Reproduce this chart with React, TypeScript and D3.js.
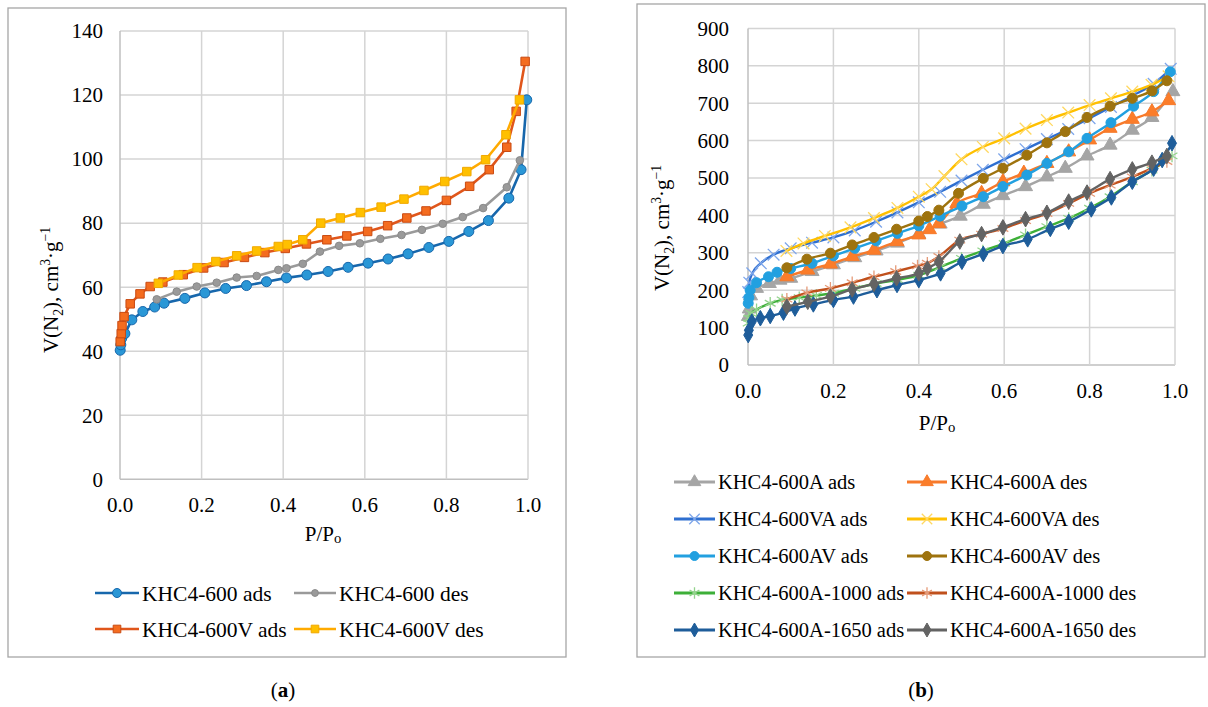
import React from "react";
import * as d3 from "d3";

// ---------- Panel (a) data: [P/P0, V] ----------
const a600Ads: [number, number][] = [
  [0.0005, 40.3], [0.002, 42], [0.004, 44], [0.012, 45.5], [0.029, 49.8], [0.056, 52.4], [0.085, 53.8],
  [0.108, 55], [0.159, 56.5], [0.208, 58.2], [0.259, 59.6], [0.31, 60.5], [0.359, 61.7], [0.408, 62.9],
  [0.458, 63.8], [0.51, 64.9], [0.559, 66.2], [0.608, 67.5], [0.657, 68.8], [0.706, 70.4], [0.757, 72.4],
  [0.806, 74.3], [0.855, 77.4], [0.903, 80.8], [0.953, 87.8], [0.983, 96.7], [0.997, 118.5],
];
const a600Des: [number, number][] = [
  [0.09, 56.2], [0.139, 58.6], [0.188, 60.2], [0.237, 61.4], [0.286, 63], [0.335, 63.5], [0.388, 65.4],
  [0.408, 65.9], [0.448, 67.3], [0.49, 71.1], [0.537, 72.9], [0.588, 73.7], [0.638, 75.1], [0.69, 76.3],
  [0.74, 77.9], [0.791, 79.8], [0.84, 81.9], [0.89, 84.7], [0.948, 91.2], [0.98, 99.6],
];
const a600VAds: [number, number][] = [
  [0.0005, 43], [0.003, 45.5], [0.005, 48], [0.01, 50.8], [0.025, 54.8], [0.049, 57.9], [0.074, 60.2],
  [0.105, 61.6], [0.155, 63.9], [0.205, 66], [0.255, 67.7], [0.305, 69.3], [0.355, 70.8], [0.405, 72.1],
  [0.457, 73.5], [0.507, 74.8], [0.556, 76], [0.607, 77.4], [0.656, 79.2], [0.703, 81.6], [0.75, 83.8],
  [0.8, 87.1], [0.857, 91.5], [0.905, 96.7], [0.948, 103.7], [0.971, 114.9], [0.993, 130.5],
];
const a600VDes: [number, number][] = [
  [0.094, 61.2], [0.143, 63.8], [0.189, 66.1], [0.235, 68], [0.286, 69.8], [0.335, 71.3], [0.388, 72.7],
  [0.41, 73.3], [0.448, 74.8], [0.492, 80], [0.54, 81.6], [0.589, 83.3], [0.64, 85], [0.696, 87.5],
  [0.745, 90.2], [0.796, 93], [0.85, 96.1], [0.896, 99.8], [0.946, 107.6], [0.979, 118.5],
];

// ---------- Panel (b) data: [P/P0, V] ----------
const bAAds: [number, number][] = [
  [0.001, 130], [0.003, 150], [0.006, 185], [0.02, 205], [0.05, 218], [0.075, 227], [0.1, 232], [0.15, 250],
  [0.2, 268], [0.25, 287], [0.3, 305], [0.35, 326], [0.4, 350], [0.45, 377], [0.497, 398], [0.551, 430],
  [0.597, 453], [0.65, 477], [0.7, 503], [0.743, 526], [0.794, 559], [0.848, 588], [0.9, 628], [0.946, 662],
  [0.995, 731],
];
const bADes: [number, number][] = [
  [0.091, 236], [0.14, 254], [0.193, 270], [0.244, 290], [0.295, 307], [0.349, 330], [0.4, 348], [0.425, 362],
  [0.447, 378], [0.489, 432], [0.547, 459], [0.597, 490], [0.646, 513], [0.7, 539], [0.751, 570], [0.8, 602],
  [0.848, 633], [0.9, 657], [0.946, 677], [0.985, 707],
];
const bVAAds: [number, number][] = [
  [0.0005, 195], [0.003, 220], [0.01, 245], [0.03, 272], [0.06, 295], [0.1, 312], [0.15, 327], [0.2, 341],
  [0.25, 360], [0.3, 383], [0.35, 408], [0.4, 435], [0.45, 463], [0.5, 493], [0.55, 522], [0.6, 550],
  [0.65, 577], [0.7, 604], [0.75, 631], [0.8, 660], [0.85, 690], [0.9, 720], [0.95, 752], [0.99, 792],
];
const bVADes: [number, number][] = [
  [0.09, 305], [0.13, 325], [0.18, 345], [0.24, 368], [0.295, 393], [0.35, 420], [0.4, 450], [0.43, 470],
  [0.46, 505], [0.5, 550], [0.55, 583], [0.6, 606], [0.65, 632], [0.7, 655], [0.75, 675], [0.8, 695],
  [0.85, 713], [0.9, 731], [0.945, 749], [0.985, 772],
];
const bAVAds: [number, number][] = [
  [0.0005, 165], [0.002, 180], [0.005, 200], [0.02, 220], [0.048, 236], [0.068, 248], [0.1, 258], [0.15, 272],
  [0.2, 292], [0.25, 312], [0.3, 332], [0.35, 352], [0.4, 372], [0.45, 398], [0.501, 425], [0.551, 450],
  [0.597, 477], [0.653, 508], [0.7, 539], [0.751, 570], [0.794, 606], [0.85, 648], [0.903, 692], [0.95, 731],
  [0.989, 784],
];
const bAVDes: [number, number][] = [
  [0.091, 260], [0.138, 283], [0.193, 299], [0.244, 321], [0.295, 341], [0.348, 363], [0.4, 385], [0.42, 397],
  [0.447, 414], [0.493, 459], [0.551, 499], [0.597, 526], [0.653, 561], [0.7, 594], [0.743, 624], [0.794, 662],
  [0.848, 692], [0.9, 713], [0.946, 733], [0.981, 760],
];
const b1000Ads: [number, number][] = [
  [0.0005, 112], [0.002, 125], [0.007, 138], [0.02, 148], [0.052, 165], [0.08, 174], [0.12, 180], [0.16, 186],
  [0.2, 192], [0.25, 205], [0.3, 218], [0.35, 228], [0.4, 240], [0.45, 262], [0.5, 285], [0.55, 305],
  [0.6, 325], [0.65, 348], [0.7, 370], [0.751, 392], [0.8, 419], [0.848, 450], [0.9, 490], [0.946, 521],
  [0.993, 559],
];
const b1000Des: [number, number][] = [
  [0.091, 176], [0.138, 193], [0.193, 205], [0.244, 220], [0.295, 236], [0.346, 250], [0.397, 265], [0.42, 272],
  [0.447, 290], [0.496, 334], [0.547, 350], [0.597, 365], [0.65, 386], [0.7, 405], [0.751, 432], [0.8, 459],
  [0.848, 481], [0.9, 503], [0.946, 526], [0.981, 544],
];
const b1650Ads: [number, number][] = [
  [0.0005, 80], [0.002, 93], [0.009, 116], [0.029, 125], [0.052, 131], [0.083, 140], [0.11, 151], [0.153, 162],
  [0.2, 174], [0.247, 183], [0.302, 200], [0.349, 214], [0.4, 227], [0.451, 245], [0.501, 276], [0.551, 297],
  [0.597, 318], [0.655, 336], [0.708, 364], [0.751, 383], [0.804, 416], [0.851, 448], [0.9, 490], [0.95, 525],
  [0.97, 548], [0.993, 593],
];
const b1650Des: [number, number][] = [
  [0.091, 156], [0.14, 169], [0.193, 183], [0.244, 202], [0.295, 217], [0.348, 232], [0.4, 245], [0.42, 258],
  [0.447, 276], [0.496, 330], [0.547, 350], [0.597, 368], [0.65, 390], [0.7, 407], [0.751, 437], [0.794, 461],
  [0.848, 497], [0.9, 523], [0.946, 541], [0.981, 559],
];

const xTicks = [0, 0.2, 0.4, 0.6, 0.8, 1.0];
const aYTicks = [0, 20, 40, 60, 80, 100, 120, 140];
const bYTicks = [0, 100, 200, 300, 400, 500, 600, 700, 800, 900];

type Shape = "circle" | "smallcircle" | "square" | "triangle" | "times" | "asterisk" | "diamond";
interface Series {
  name: string;
  data: [number, number][];
  line: string;
  fill: string;
  stroke: string;
  shape: Shape;
}

const seriesA: Series[] = [
  { name: "KHC4-600 ads", data: a600Ads, line: "#1767ac", fill: "#2a97d6", stroke: "#1767ac", shape: "circle" },
  { name: "KHC4-600 des", data: a600Des, line: "#9a9a9a", fill: "#9a9a9a", stroke: "#8a8a8a", shape: "smallcircle" },
  { name: "KHC4-600V ads", data: a600VAds, line: "#e0561b", fill: "#f46c1f", stroke: "#c94a12", shape: "square" },
  { name: "KHC4-600V des", data: a600VDes, line: "#ffaa00", fill: "#ffc000", stroke: "#f0a800", shape: "square" },
];

const seriesB: Series[] = [
  { name: "KHC4-600A ads", data: bAAds, line: "#a5a5a5", fill: "#a5a5a5", stroke: "#a5a5a5", shape: "triangle" },
  { name: "KHC4-600A des", data: bADes, line: "#f77a2b", fill: "#fb7d2a", stroke: "#f77a2b", shape: "triangle" },
  { name: "KHC4-600VA ads", data: bVAAds, line: "#2e6fd0", fill: "none", stroke: "#7ea6ea", shape: "times" },
  { name: "KHC4-600VA des", data: bVADes, line: "#ffc000", fill: "none", stroke: "#ffd860", shape: "times" },
  { name: "KHC4-600AV ads", data: bAVAds, line: "#22a0e0", fill: "#22a0e0", stroke: "#22a0e0", shape: "circle" },
  { name: "KHC4-600AV des", data: bAVDes, line: "#9e730e", fill: "#9e730e", stroke: "#9e730e", shape: "circle" },
  { name: "KHC4-600A-1000 ads", data: b1000Ads, line: "#3daf38", fill: "none", stroke: "#93d38c", shape: "asterisk" },
  { name: "KHC4-600A-1000 des", data: b1000Des, line: "#c0501c", fill: "none", stroke: "#e59a78", shape: "asterisk" },
  { name: "KHC4-600A-1650 ads", data: b1650Ads, line: "#1e5d9a", fill: "#1e5d9a", stroke: "#1e5d9a", shape: "diamond" },
  { name: "KHC4-600A-1650 des", data: b1650Des, line: "#636363", fill: "#636363", stroke: "#636363", shape: "diamond" },
];

const FONT = "'Liberation Serif', 'Times New Roman', serif";

function Marker({ shape, x, y, fill, stroke, scale = 1 }: { shape: Shape; x: number; y: number; fill: string; stroke: string; scale?: number }) {
  if (shape === "circle") return <circle cx={x} cy={y} r={5 * scale} fill={fill} stroke={stroke} strokeWidth={1} />;
  if (shape === "smallcircle") return <circle cx={x} cy={y} r={3.8 * scale} fill={fill} stroke={stroke} strokeWidth={1} />;
  let type: d3.SymbolType = d3.symbolSquare;
  let size = 72;
  let strokeW = 1;
  let f = fill;
  if (shape === "square") { type = d3.symbolSquare; size = 72; }
  if (shape === "triangle") { type = d3.symbolTriangle; size = 85; }
  if (shape === "diamond") { type = d3.symbolDiamond; size = 70; }
  if (shape === "times") { type = d3.symbolTimes; size = 90; strokeW = 1.3; f = "none"; }
  if (shape === "asterisk") { type = d3.symbolAsterisk; size = 110; strokeW = 1.3; f = "none"; }
  const path = d3.symbol().type(type).size(size * scale * scale)();
  return <path d={path || ""} transform={`translate(${x},${y})`} fill={f} stroke={stroke} strokeWidth={strokeW} />;
}

function YTitle({ x, y, fs }: { x: number; y: number; fs: number }) {
  const s = fs * 0.65;
  return (
    <text x={x} y={y} transform={`rotate(-90 ${x} ${y})`} textAnchor="middle" fontFamily={FONT} fontSize={fs} fill="#000">
      V(N<tspan fontSize={s} dy={5}>2</tspan><tspan dy={-5}>), cm</tspan>
      <tspan fontSize={s} dy={-8}>3</tspan><tspan dy={8}>·g</tspan>
      <tspan fontSize={s} dy={-8}>−1</tspan>
    </text>
  );
}

function XTitle({ x, y, fs }: { x: number; y: number; fs: number }) {
  return (
    <text x={x} y={y} textAnchor="middle" fontFamily={FONT} fontSize={fs} fill="#000">
      P/P<tspan fontSize={fs * 0.7} dy={2}>o</tspan>
    </text>
  );
}

interface PanelProps {
  series: Series[];
  x0: number; x1: number; y0: number; y1: number;
  yMax: number; yTicks: number[];
  xLabelY: number; yLabelX: number;
  curve: d3.CurveFactory;
  lineW: number;
  fs: number;
}

function Panel({ series, x0, x1, y0, y1, yMax, yTicks, xLabelY, yLabelX, curve, lineW, fs }: PanelProps) {
  const x = d3.scaleLinear().domain([0, 1]).range([x0, x1]);
  const y = d3.scaleLinear().domain([0, yMax]).range([y0, y1]);
  const line = d3.line<[number, number]>().x((d) => x(d[0])).y((d) => y(d[1])).curve(curve);
  return (
    <g>
      {yTicks.map((t) => (
        <line key={"gy" + t} x1={x0} x2={x1} y1={y(t)} y2={y(t)} stroke={t === 0 ? "#bfbfbf" : "#d4d4d4"} strokeWidth={1.5} />
      ))}
      {xTicks.map((t) => (
        <line key={"gx" + t} x1={x(t)} x2={x(t)} y1={y0} y2={y1} stroke={t === 0 ? "#bfbfbf" : "#d4d4d4"} strokeWidth={1.5} />
      ))}
      {yTicks.map((t) => (
        <text key={"ty" + t} x={yLabelX} y={y(t)} dy="0.35em" textAnchor="end" fontFamily={FONT} fontSize={fs} fill="#000">
          {t}
        </text>
      ))}
      {xTicks.map((t) => (
        <text key={"tx" + t} x={x(t)} y={xLabelY} textAnchor="middle" fontFamily={FONT} fontSize={fs} fill="#000">
          {t.toFixed(1)}
        </text>
      ))}
      {series.map((s) => (
        <g key={s.name}>
          <path d={line(s.data) || ""} fill="none" stroke={s.line} strokeWidth={lineW} strokeLinejoin="round" />
          {s.data.map((d, i) => (
            <Marker key={i} shape={s.shape} x={x(d[0])} y={y(d[1])} fill={s.fill} stroke={s.stroke} />
          ))}
        </g>
      ))}
    </g>
  );
}

function Legend({ series, cols, rowYs, lineW, fs }: { series: Series[]; cols: { x0: number; x1: number }[]; rowYs: number[]; lineW: number; fs: number }) {
  return (
    <g>
      {series.map((s, i) => {
        const c = cols[i % 2];
        const yy = rowYs[Math.floor(i / 2)];
        return (
          <g key={s.name}>
            <line x1={c.x0} x2={c.x1} y1={yy} y2={yy} stroke={s.line} strokeWidth={lineW} />
            <Marker shape={s.shape} x={(c.x0 + c.x1) / 2} y={yy} fill={s.fill} stroke={s.stroke} scale={0.9} />
            <text x={c.x1 + 3} y={yy} dy="0.35em" fontFamily={FONT} fontSize={fs} fill="#000">
              {s.name}
            </text>
          </g>
        );
      })}
    </g>
  );
}

export default function App() {
  return (
    <svg width={1208} height={707} style={{ position: "absolute", left: 0, top: 0, background: "#fff" }}>
      <rect x={0} y={0} width={1208} height={707} fill="#fff" />
      {/* panel frames */}
      <rect x={8} y={8} width={558} height={649} fill="none" stroke="#a6a6a6" strokeWidth={1.3} />
      <rect x={637} y={4} width={568} height={653} fill="none" stroke="#a6a6a6" strokeWidth={1.3} />

      {/* Panel (a) */}
      <Panel series={seriesA} x0={120} x1={528} y0={479.3} y1={31} yMax={140} yTicks={aYTicks}
        xLabelY={512} yLabelX={103} curve={d3.curveLinear} lineW={2.6} fs={21} />
      <YTitle x={58} y={290} fs={21} />
      <XTitle x={323} y={541} fs={21} />
      <Legend series={seriesA} cols={[{ x0: 95, x1: 139 }, { x0: 294, x1: 336 }]} rowYs={[593, 629]} lineW={2.6} fs={21.5} />
      <text x={283} y={697} textAnchor="middle" fontFamily={FONT} fontSize={21} fill="#000">
        (<tspan fontWeight="bold">a</tspan>)
      </text>

      {/* Panel (b) */}
      <Panel series={seriesB} x0={748} x1={1175} y0={365} y1={28.4} yMax={900} yTicks={bYTicks}
        xLabelY={398} yLabelX={729} curve={d3.curveMonotoneX} lineW={2.4} fs={21} />
      <YTitle x={669} y={228} fs={21} />
      <XTitle x={937} y={430} fs={21} />
      <Legend series={seriesB} cols={[{ x0: 674, x1: 715 }, { x0: 907, x1: 947 }]} rowYs={[482, 519, 556, 593, 630]} lineW={3} fs={20.5} />
      <text x={921} y={697} textAnchor="middle" fontFamily={FONT} fontSize={21} fill="#000">
        (<tspan fontWeight="bold">b</tspan>)
      </text>
    </svg>
  );
}
